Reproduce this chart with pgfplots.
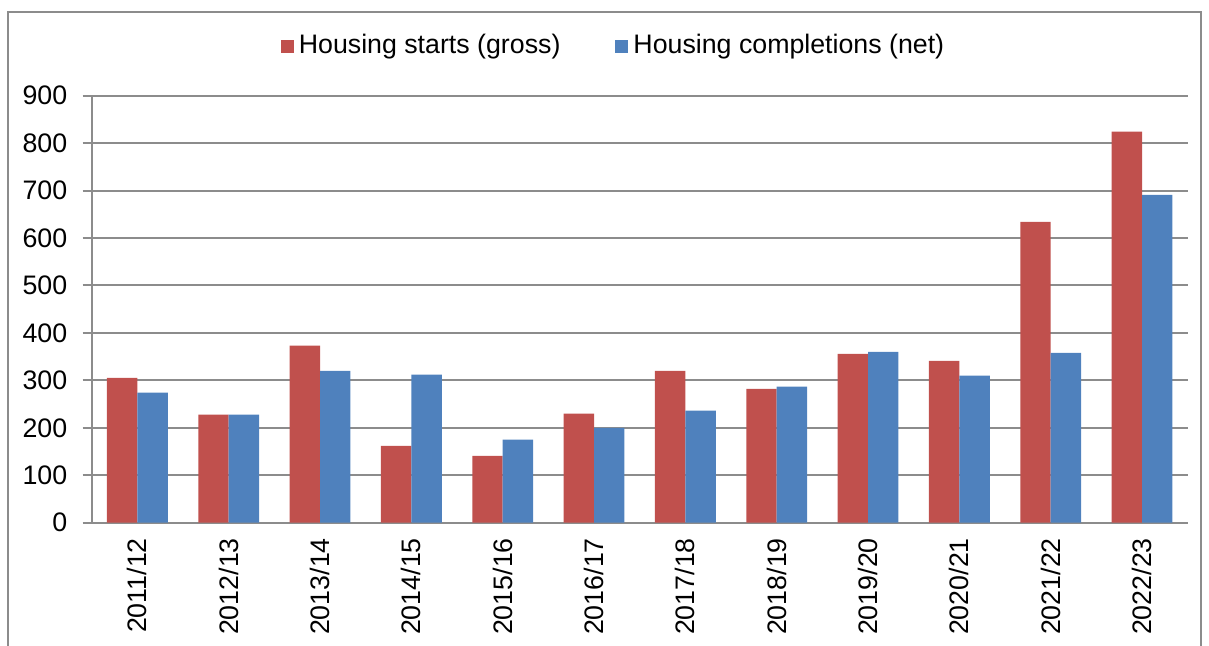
\documentclass[border=0pt]{standalone}
\usepackage{fontspec}
\setmainfont{Liberation Sans}
\usepackage{pgfplots}
\pgfplotsset{compat=1.18}
\definecolor{starts}{HTML}{C0504D}
\definecolor{compl}{HTML}{4F81BD}
\definecolor{gridc}{HTML}{8C8C8C}
\begin{document}
\begin{tikzpicture}
% 1 px of the reference = 0.4pt
\path[use as bounding box] (0pt,0pt) rectangle (483.6pt,258.4pt);
% outer frame (bottom edge cut off)
\draw[gridc, line width=0.8pt] (3.2pt,0pt) -- (3.2pt,253.6pt) -- (480.4pt,253.6pt) -- (480.4pt,0pt);
\begin{axis}[
  at={(36.68pt,49.32pt)}, anchor=south west,
  scale only axis, width=438.4pt, height=170.8pt,
  ybar, bar width=0.333,
  xmin=-0.5, xmax=11.5, ymin=0, ymax=900,
  axis x line=bottom, axis y line=left,
  axis line style={gridc, line width=0.8pt, -},
  ytick={0,100,...,900},
  xtick={0,...,11},
  xticklabels={2011/12,2012/13,2013/14,2014/15,2015/16,2016/17,2017/18,2018/19,2019/20,2020/21,2021/22,2022/23},
  minor xtick={-0.5,0.5,...,11.5},
  tick align=outside, major tick length=3.6pt, minor tick length=3.6pt,
  xtick style={draw=none},
  minor x tick style={gridc, line width=0.8pt},
  ytick style={gridc, line width=0.8pt},
  ymajorgrids, grid style={gridc, line width=0.8pt},
  tick label style={font=\fontsize{10.7}{12}\selectfont, text=black},
  /pgf/number format/assume math mode=true,
  % shifts after rotate act in the rotated frame: negative xshift moves down
  xticklabel style={rotate=90, anchor=east, inner sep=0pt, xshift=-2.4pt},
  yticklabel style={inner sep=0pt, xshift=-6pt},
  legend columns=2,
  legend style={at={(0.4775,1.116)}, anchor=center, draw=none, fill=none,
    font=\fontsize{10.7}{12}\selectfont, inner sep=0pt,
    /tikz/every even column/.append style={column sep=20pt}},
  legend image code/.code={\fill[#1] (0,-2.6pt) rectangle (5.2pt,2.6pt);},
]
\addplot[fill=starts, draw=none, bar shift=-0.1667] coordinates {
 (0,305) (1,228) (2,373) (3,162) (4,141) (5,230) (6,320) (7,282) (8,356) (9,341) (10,634) (11,824)};
\addlegendentry{Housing starts (gross)}
\addplot[fill=compl, draw=none, bar shift=0.1667] coordinates {
 (0,274) (1,228) (2,320) (3,312) (4,175) (5,200) (6,236) (7,287) (8,360) (9,310) (10,358) (11,691)};
\addlegendentry{Housing completions (net)}
\end{axis}
\end{tikzpicture}
\end{document}
